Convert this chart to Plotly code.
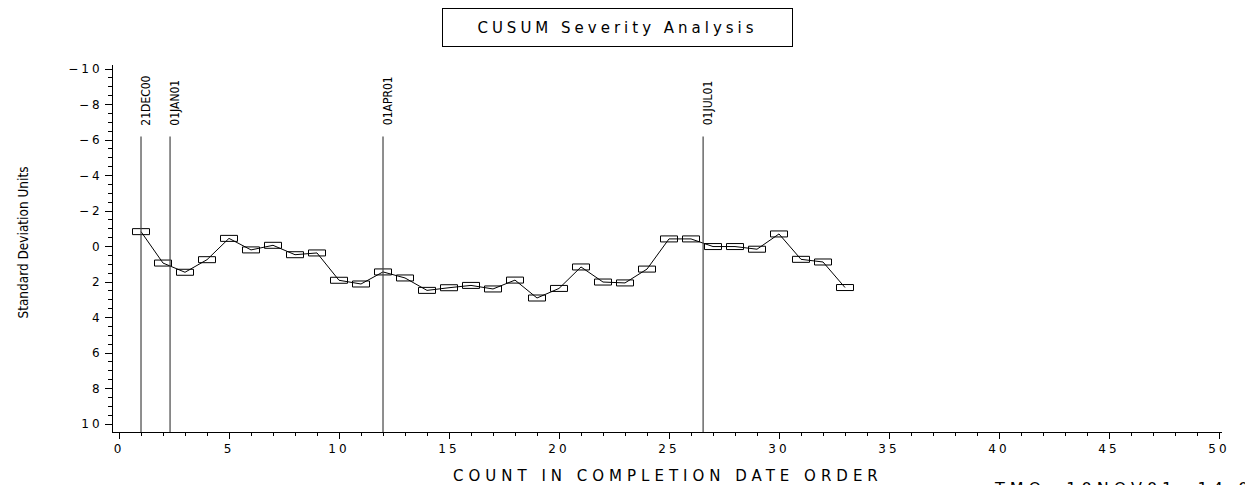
import plotly.graph_objects as go

# CUSUM of severity (standard deviation units) by completion order
count = list(range(1, 34))
cusum = [-0.84, 0.93, 1.45, 0.74, -0.46, 0.19, -0.07, 0.46, 0.36, 1.90, 2.11, 1.43,
         1.77, 2.47, 2.32, 2.19, 2.39, 1.89, 2.90, 2.36, 1.15, 2.00, 2.05, 1.27, -0.43,
         -0.43, 0.00, 0.00, 0.15, -0.71, 0.72, 0.87, 2.31]

# reference dates marked along the count axis
date_labels = ["21DEC00", "01JAN01", "01APR01", "01JUL01"]
date_positions = [1.0, 2.32, 12.0, 26.55]
date_line_top = -6.2
date_label_base = -6.7

x_ticks = list(range(0, 51, 5))
y_ticks = list(range(-10, 11, 2))

WIDE = "DejaVu Sans"
NARROW = "DejaVu Sans Condensed, Liberation Sans Narrow, Arial Narrow, sans-serif"


def spaced(text, px):
    return f'<span style="letter-spacing:{px}px">{text}</span>'


def num_label(v):
    return ("\u2212" if v < 0 else "") + str(abs(v))


fig = go.Figure()

fig.add_trace(go.Scatter(
    x=count, y=cusum, mode="lines",
    line=dict(color="black", width=1),
    hoverinfo="x+y", showlegend=False,
))

shapes = []
# rectangular plot symbols, fixed pixel size, anchored on each point
for xv, yv in zip(count, cusum):
    shapes.append(dict(
        type="rect", xref="x", yref="y",
        xsizemode="pixel", ysizemode="pixel",
        xanchor=xv, yanchor=yv,
        x0=-8.5, x1=8.5, y0=-3, y1=3,
        line=dict(color="black", width=1),
        fillcolor="rgba(0,0,0,0)",
    ))

# vertical reference lines for the dates
for pos in date_positions:
    shapes.append(dict(
        type="line", xref="x", yref="y",
        x0=pos, x1=pos, y0=date_line_top, y1=10.45,
        line=dict(color="#444444", width=1.2),
    ))

annotations = []
for lab, pos in zip(date_labels, date_positions):
    annotations.append(dict(
        x=pos, y=date_label_base, xref="x", yref="y",
        text=lab, textangle=-90, showarrow=False,
        xanchor="center", yanchor="bottom", xshift=5,
        font=dict(family=NARROW, size=12, color="black"),
    ))

# boxed title
annotations.append(dict(
    x=0.4549, y=1.1019, xref="paper", yref="paper",
    text=spaced("CUSUM Severity Analysis", 4), showarrow=False,
    xanchor="center", yanchor="middle",
    width=349, height=37, borderpad=0,
    bordercolor="black", borderwidth=1,
    font=dict(family=WIDE, size=15, color="black"),
))

# axis titles
annotations.append(dict(
    x=0.5005, y=-0.1196, xref="paper", yref="paper",
    text=spaced("COUNT IN COMPLETION DATE ORDER", 5), showarrow=False,
    xanchor="center", yanchor="middle",
    font=dict(family=WIDE, size=15, color="black"),
))
annotations.append(dict(
    x=-0.082, y=0.5163, xref="paper", yref="paper",
    text="Standard Deviation Units", textangle=-90, showarrow=False,
    xanchor="center", yanchor="middle",
    font=dict(family=NARROW, size=13.5, color="black"),
))

# run stamp at the lower right, running off the page edge
annotations.append(dict(
    x=0.7926, y=-0.1277, xref="paper", yref="paper",
    text=spaced("TMO  10NOV01  14:06", 5), showarrow=False,
    xanchor="left", yanchor="top", yshift=2,
    font=dict(family=WIDE, size=16, color="black"),
))

tick_font = dict(family=WIDE, size=12, color="black")

fig.update_layout(
    width=1245, height=485,
    margin=dict(l=113, r=23, t=65, b=53),
    paper_bgcolor="white", plot_bgcolor="white",
    shapes=shapes, annotations=annotations,
    xaxis=dict(
        range=[-0.273, 50.136], showgrid=False, zeroline=False,
        showline=True, linecolor="black", linewidth=1,
        ticks="outside", ticklen=6, tickwidth=1, tickcolor="black",
        tickvals=x_ticks, ticktext=[spaced(str(v), 3) for v in x_ticks],
        tickfont=tick_font,
        minor=dict(dtick=1, ticks="outside", ticklen=3, tickcolor="black", tickwidth=1),
    ),
    yaxis=dict(
        range=[10.45, -10.23], showgrid=False, zeroline=False,
        showline=True, linecolor="black", linewidth=1,
        ticks="outside", ticklen=7, tickwidth=1, tickcolor="black",
        tickvals=y_ticks, ticktext=[spaced(num_label(v), 3) for v in y_ticks],
        tickfont=tick_font,
        minor=dict(dtick=0.5, ticks="outside", ticklen=4, tickcolor="black", tickwidth=1),
    ),
)

fig.write_html("out.html")
